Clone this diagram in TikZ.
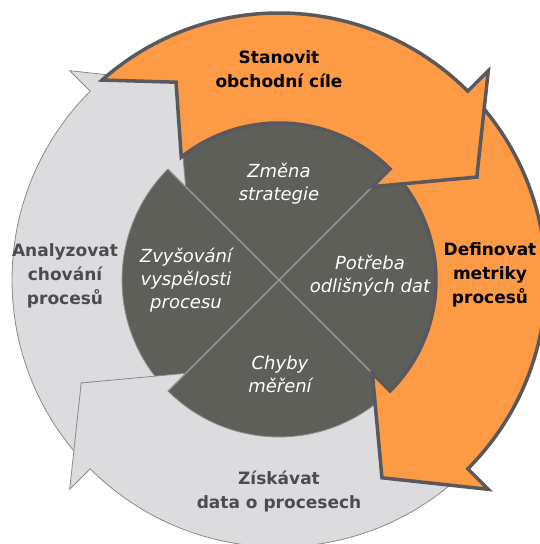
\documentclass[tikz,border=0pt]{standalone}
\usepackage{fontspec}
\setmainfont{DejaVu Sans}
\usepackage{tikz}
\usetikzlibrary{positioning}
\definecolor{orangefill}{HTML}{FD9A45}
\definecolor{arrowline}{HTML}{59585D}
\definecolor{greyfill}{HTML}{DCDCDE}
\definecolor{greyline}{HTML}{8A8A8E}
\definecolor{darkfill}{HTML}{5F5F5A}
\definecolor{crossline}{HTML}{9C9C9A}
\definecolor{greytext}{HTML}{4C4C4E}
\tikzset{
    %Define style for the ring arrows
    orangearrow/.style={
             fill=orangefill,
             draw=arrowline, line width=3.5pt,
             line join=miter},
    greyarrow/.style={
             fill=greyfill,
             draw=greyline, line width=0.8pt},
    %Define style for the centre
    centredisc/.style={
             fill=darkfill},
    crossing/.style={
             draw=crossline, line width=1.2pt},
    %Define style for labels
    outerlabel/.style={
             align=center,
             font=\bfseries\fontsize{17}{24}\selectfont},
    innerlabel/.style={
             align=center,
             text=white,
             font=\itshape\fontsize{18}{23}\selectfont}
}
% ring arrow: #1 tail angle, #2 head angle, #3 style
\newcommand{\ringarrow}[3]{%
  \draw[#3] (#1-3.5:267) arc[start angle=#1-3.5, end angle=#2, radius=267]
     -- (#2:296) -- (#2-17.5:223) -- (#2:132) -- (#2:157)
     arc[start angle=#2, end angle=#1-6.5, radius=157]
     -- (#1-17.5:223) -- cycle;
}
\begin{document}
\begin{tikzpicture}[x=1pt, y=1pt]
 \useasboundingbox (0,0) rectangle (540,544);
 \begin{scope}[shift={(279,264)}]
  \fill[centredisc] (0,0) circle[radius=157];
  \draw[crossing] (45:157) -- (-135:157);
  \draw[crossing] (135:157) -- (-45:157);
  \ringarrow{-135}{-225}{greyarrow}
  \ringarrow{-45}{-135}{greyarrow}
  \ringarrow{45}{-45}{orangearrow}
  \ringarrow{135}{45}{orangearrow}
 \end{scope}
 \node[outerlabel] (stanovit) at (279,475) {Stanovit\\obchodní cíle};
 \node[outerlabel, text=greytext] (analyzovat) at (65,268) {Analyzovat\\chování\\procesů};
 \node[outerlabel] (definovat) at (490,269) {Definovat\\metriky\\procesů};
 \node[outerlabel, text=greytext] (ziskavat) at (279,53) {Získávat\\data o procesech};
 \node[innerlabel] (zmena) at (279,360) {Změna\\strategie};
 \node[innerlabel] (zvysovani) at (186,264) {Zvyšování\\vyspělosti\\procesu};
 \node[innerlabel] (potreba) at (370,268) {Potřeba\\odlišných dat};
 \node[innerlabel] (chyby) at (280,170) {Chyby\\měření};
\end{tikzpicture}
\end{document}
